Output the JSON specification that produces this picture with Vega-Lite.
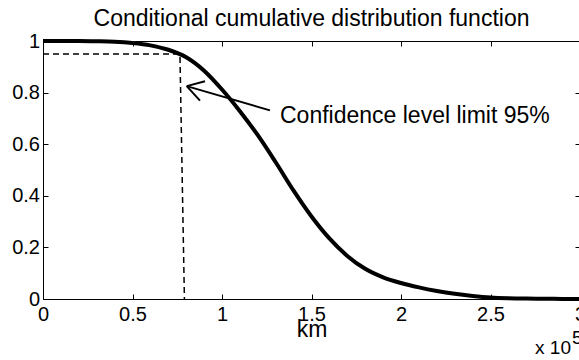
{
  "$schema": "https://vega.github.io/schema/vega-lite/v6.json",
  "width": 537,
  "height": 258,
  "autosize": "none",
  "padding": {"left": 43, "top": 41, "right": 0, "bottom": 61},
  "background": "white",
  "title": {"text": "Conditional cumulative distribution function", "font": "Liberation Sans", "fontSize": 23, "fontWeight": "normal", "color": "black", "frame": "group", "offset": 0, "anchor": "middle"},
  "config": {
    "view": {"stroke": null},
    "axis": {"grid": false, "domainColor": "black", "domainWidth": 1, "tickColor": "black", "tickWidth": 1, "tickSize": -5, "labelFont": "Liberation Sans", "labelFontSize": 20, "labelColor": "black", "labelFlush": false, "labelOverlap": false, "format": "~g", "titleFont": "Liberation Sans", "titleFontSize": 23, "titleFontWeight": "normal", "titleColor": "black"}
  },
  "datasets": {
    "curve": [
      {"km": 0.0, "p": 1.0}, {"km": 0.1, "p": 1.0}, {"km": 0.2, "p": 1.0}, {"km": 0.3, "p": 0.999},
      {"km": 0.4, "p": 0.997}, {"km": 0.5, "p": 0.992}, {"km": 0.6, "p": 0.983}, {"km": 0.7, "p": 0.966},
      {"km": 0.8, "p": 0.937}, {"km": 0.9, "p": 0.885}, {"km": 1.0, "p": 0.812}, {"km": 1.1, "p": 0.728},
      {"km": 1.2, "p": 0.635}, {"km": 1.3, "p": 0.53}, {"km": 1.4, "p": 0.42}, {"km": 1.5, "p": 0.32},
      {"km": 1.6, "p": 0.235}, {"km": 1.7, "p": 0.167}, {"km": 1.8, "p": 0.117}, {"km": 1.9, "p": 0.084},
      {"km": 2.0, "p": 0.062}, {"km": 2.1, "p": 0.045}, {"km": 2.2, "p": 0.031}, {"km": 2.3, "p": 0.02},
      {"km": 2.4, "p": 0.012}, {"km": 2.5, "p": 0.006}, {"km": 2.6, "p": 0.003}, {"km": 2.7, "p": 0.0015},
      {"km": 2.8, "p": 0.0008}, {"km": 2.9, "p": 0.0004}, {"km": 3.0, "p": 0.0002}
    ],
    "limit": [
      {"km": 0.0, "p": 0.95, "o": 0}, {"km": 0.765, "p": 0.95, "o": 1}, {"km": 0.79, "p": 0.0, "o": 2}
    ],
    "arrow": [
      {"seg": "shaft", "km": 1.268, "p": 0.731, "o": 0}, {"seg": "shaft", "km": 0.803, "p": 0.825, "o": 1},
      {"seg": "w1", "km": 0.905, "p": 0.844, "o": 0}, {"seg": "w1", "km": 0.803, "p": 0.825, "o": 1},
      {"seg": "w2", "km": 0.877, "p": 0.769, "o": 0}, {"seg": "w2", "km": 0.803, "p": 0.825, "o": 1}
    ],
    "note": [{"label": "Confidence level limit 95%", "km": 1.324, "p": 0.683}],
    "scale10": [{"label": "x 10", "km": 2.749, "p": -0.215}],
    "expo": [{"label": "5", "km": 2.955, "p": -0.176}]
  },
  "layer": [
    {
      "data": {"name": "curve"},
      "mark": {"type": "line", "color": "black", "strokeWidth": 4, "interpolate": "monotone", "clip": false},
      "encoding": {
        "x": {"field": "km", "type": "quantitative", "scale": {"domain": [0, 3], "nice": false, "zero": false},
              "axis": {"orient": "bottom", "values": [0, 0.5, 1, 1.5, 2, 2.5, 3], "labelPadding": 10, "title": "km", "titleBaseline": "alphabetic", "titleY": 37.5}},
        "y": {"field": "p", "type": "quantitative", "scale": {"domain": [0, 1], "nice": false, "zero": false},
              "axis": {"orient": "left", "values": [0, 0.2, 0.4, 0.6, 0.8, 1], "labelPadding": 8.5, "title": null, "labelBaseline": "middle"}}
      }
    },
    {
      "data": {"name": "limit"},
      "mark": {"type": "line", "color": "black", "strokeWidth": 1.5, "strokeDash": [6, 4]},
      "encoding": {
        "x": {"field": "km", "type": "quantitative", "axis": {"orient": "top", "values": [0, 0.5, 1, 1.5, 2, 2.5, 3], "labels": false, "title": null}},
        "y": {"field": "p", "type": "quantitative", "axis": {"orient": "right", "values": [0, 0.2, 0.4, 0.6, 0.8, 1], "labels": false, "title": null}},
        "order": {"field": "o", "type": "quantitative"}
      }
    },
    {
      "data": {"name": "arrow"},
      "mark": {"type": "line", "color": "black", "strokeWidth": 2},
      "encoding": {
        "x": {"field": "km", "type": "quantitative", "axis": null},
        "y": {"field": "p", "type": "quantitative", "axis": null},
        "detail": {"field": "seg", "type": "nominal"},
        "order": {"field": "o", "type": "quantitative"}
      }
    },
    {
      "data": {"name": "note"},
      "mark": {"type": "text", "font": "Liberation Sans", "fontSize": 23, "align": "left", "baseline": "alphabetic", "color": "black"},
      "encoding": {
        "x": {"field": "km", "type": "quantitative", "axis": null},
        "y": {"field": "p", "type": "quantitative", "axis": null},
        "text": {"field": "label"}
      }
    },
    {
      "data": {"name": "scale10"},
      "mark": {"type": "text", "font": "Liberation Sans", "fontSize": 19, "align": "left", "baseline": "alphabetic", "color": "black"},
      "encoding": {
        "x": {"field": "km", "type": "quantitative", "axis": null},
        "y": {"field": "p", "type": "quantitative", "axis": null},
        "text": {"field": "label"}
      }
    },
    {
      "data": {"name": "expo"},
      "mark": {"type": "text", "font": "Liberation Sans", "fontSize": 19, "align": "left", "baseline": "alphabetic", "color": "black"},
      "encoding": {
        "x": {"field": "km", "type": "quantitative", "axis": null},
        "y": {"field": "p", "type": "quantitative", "axis": null},
        "text": {"field": "label"}
      }
    }
  ],
  "resolve": {"axis": {"x": "independent", "y": "independent"}}
}
